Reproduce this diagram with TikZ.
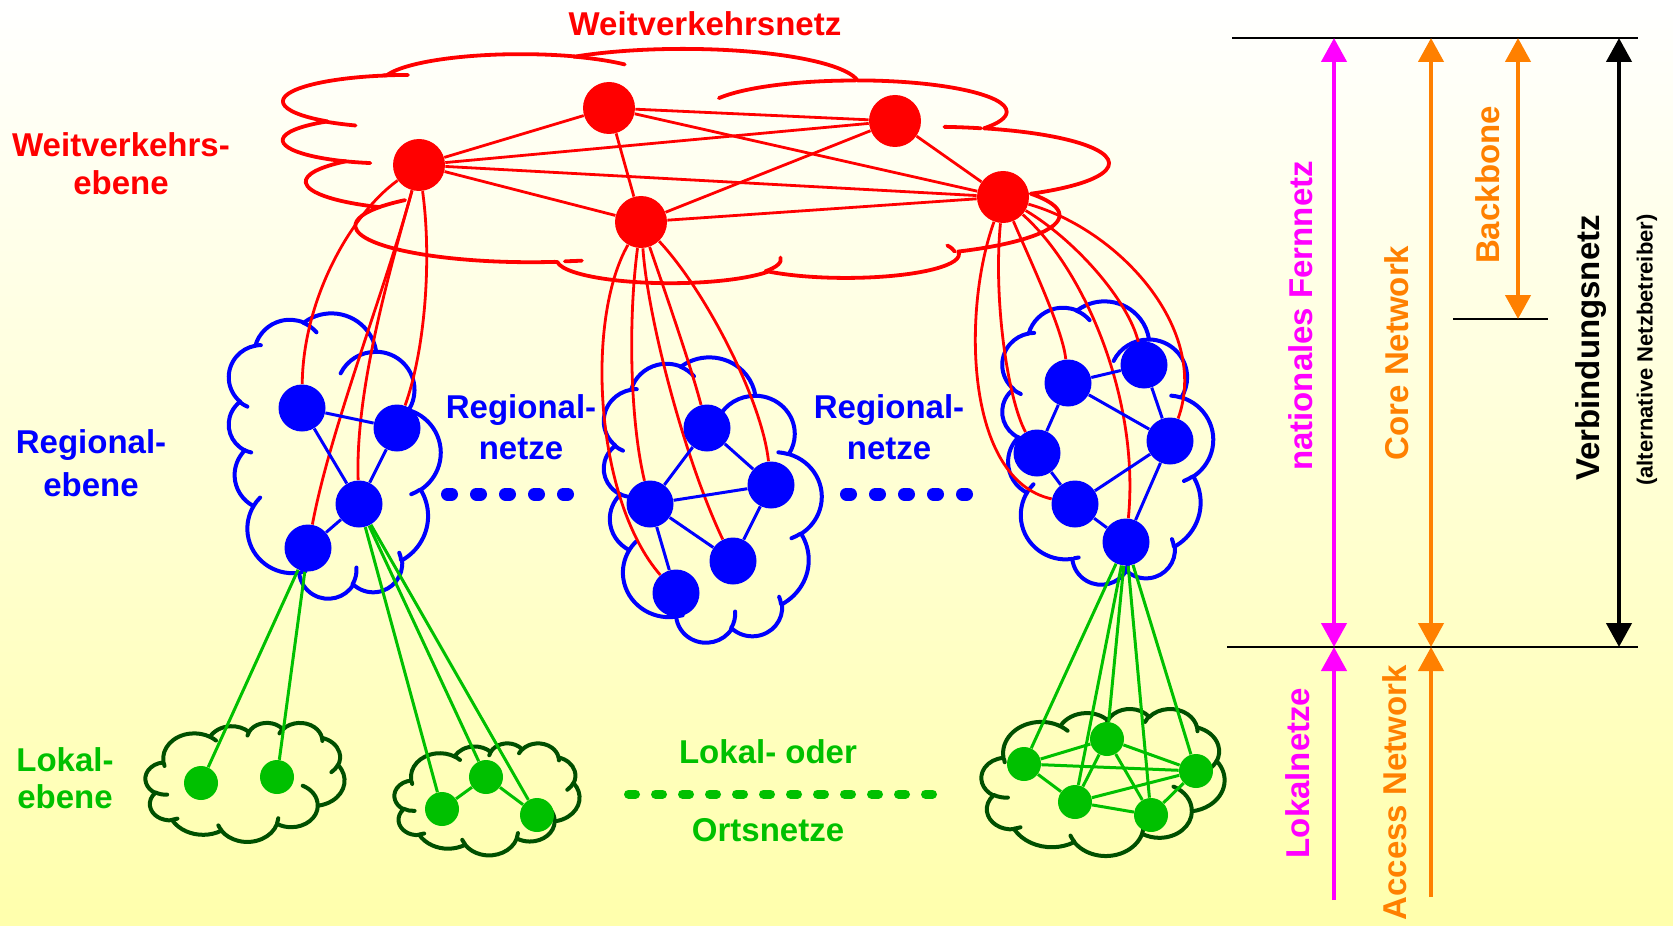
\documentclass[tikz,border=0pt]{standalone}
\usepackage{fontspec}
\setmainfont{Liberation Sans}
\usetikzlibrary{arrows.meta}
\definecolor{rd}{RGB}{255,0,0}
\definecolor{bl}{RGB}{0,0,255}
\definecolor{gn}{RGB}{0,192,0}
\definecolor{dg}{RGB}{0,80,0}
\definecolor{mg}{RGB}{255,0,255}
\definecolor{og}{RGB}{255,128,0}
\definecolor{bgy}{RGB}{255,255,172}
\pgfdeclarelayer{bg}
\pgfsetlayers{bg,main}
% elliptic arc in the manner of DrawingML arcTo (visual angles)
\newcommand\carc[4]{%
  \pgfextra{%
    \pgfmathparse{atan2((#1)*sin(#3),(#2)*cos(#3))}\global\let\cTa\pgfmathresult
    \pgfmathparse{atan2((#1)*sin((#3)+(#4)),(#2)*cos((#3)+(#4)))}\global\let\cTb\pgfmathresult
    \pgfmathparse{\cTb-(\cTa)}\global\let\cTd\pgfmathresult
    \pgfmathparse{\cTd+360*((#4)>0)*(\cTd<0)-360*((#4)<0)*(\cTd>0)}\global\let\cTd\pgfmathresult
  }%
  arc[x radius=#1pt, y radius=#2pt, start angle=\cTa, delta angle=\cTd]}
\newcommand\cloudmain{(3.9pt,14.37pt)
  \carc{6.753}{9.190}{-190.4875}{123.7805}
  \carc{5.333}{7.267}{-144.1024}{89.9452}
  \carc{4.365}{5.945}{-145.8079}{99.7230}
  \carc{4.857}{6.595}{-130.9861}{117.2417}
  \carc{5.333}{7.273}{-78.7089}{109.0269}
  \carc{6.775}{9.220}{-46.2673}{130.2690}
  \carc{5.785}{7.867}{0.6250}{114.0333}
  \carc{6.752}{9.215}{22.4516}{115.1726}
  \carc{7.720}{10.543}{66.2426}{75.7110}
  \carc{4.360}{5.918}{-274.9421}{146.7356}
  \carc{4.345}{5.945}{-246.8285}{152.5189} -- cycle}
\newcommand\cloudinner{(4.693pt,26.177pt) \carc{4.345}{5.945}{86.742}{26.4295}
  (6.928pt,34.899pt) \carc{4.360}{5.918}{73.6105}{11.4475}
  (16.478pt,39.090pt) \carc{6.752}{9.215}{137.6242}{14.0811}
  (28.827pt,34.751pt) \carc{6.752}{9.215}{6.4533}{15.9984}
  (34.129pt,22.954pt) \carc{5.785}{7.867}{-70.2924}{70.9174}
  (41.798pt,15.354pt) \carc{5.333}{7.273}{30.3180}{27.7515}
  (38.324pt,5.426pt) \carc{4.857}{6.595}{-13.7443}{14.8589}
  (29.078pt,3.952pt) \carc{4.857}{6.595}{-149.1815}{18.1954}
  (22.141pt,4.720pt) \carc{4.365}{5.945}{-163.4943}{17.6864}
  (14.000pt,5.192pt) \carc{6.753}{9.190}{-66.7070}{12.3194}
  (4.127pt,15.789pt) \carc{6.753}{9.190}{162.0452}{7.4489}}
% #1 style, #2 cx, #3 cy, #4 extent along cloud x, #5 extent along cloud y, #6 rotation
\newcommand\drawcloud[6]{%
  \begin{scope}[shift={(#2,#3)},rotate=#6,xscale=#4/86.4,yscale=-#5/86.4,shift={(-21.6pt,-21.6pt)}]
    \draw[#1] \cloudmain;
    \draw[#1] \cloudinner;
  \end{scope}}
\begin{document}
\begin{tikzpicture}[x=0.5pt,y=-0.5pt,>={Triangle[width=12.5pt,length=12pt]},
  rn/.style={circle,fill=rd,inner sep=0pt,minimum size=26pt},
  bn/.style={circle,fill=bl,inner sep=0pt,minimum size=23.5pt},
  gnd/.style={circle,fill=gn,inner sep=0pt,minimum size=17pt},
  rl/.style={draw=rd,line width=1.4pt},
  bll/.style={draw=bl,line width=1.5pt},
  gl/.style={draw=gn,line width=1.5pt},
  rc/.style={draw=rd,line width=1.9pt,line join=round,line cap=round},
  bc/.style={draw=bl,line width=2pt,line join=round,line cap=round},
  gc/.style={draw=dg,line width=2pt,line join=round,line cap=round},
  lbl/.style={inner sep=0pt,font=\fontsize{16.5}{18}\selectfont\bfseries},
  bdash/.style={draw=bl,line width=6.5pt,line cap=round,dash pattern=on 2pt off 12.5pt},
  gdash/.style={draw=gn,line width=4.5pt,line cap=round,dash pattern=on 3.5pt off 10pt},
  hl/.style={draw=black,line width=1pt},
  ar/.style={line width=2.2pt}]
\useasboundingbox (0,0) rectangle (1673,925);
% ---------- nodes ----------
\node[rn] (A) at (419,165) {};
\node[rn] (B) at (609,108) {};
\node[rn] (C) at (895,121) {};
\node[rn] (D) at (641,222) {};
\node[rn] (E) at (1003,197) {};
\node[bn] (L1) at (302,408) {};
\node[bn] (L2) at (397,428) {};
\node[bn] (L3) at (359,504) {};
\node[bn] (L4) at (308,548) {};
\node[bn] (M1) at (707,428) {};
\node[bn] (M2) at (771,485) {};
\node[bn] (M3) at (650,504) {};
\node[bn] (M4) at (733,561) {};
\node[bn] (M5) at (676,593) {};
\node[bn] (R1) at (1068,383) {};
\node[bn] (R2) at (1144,365) {};
\node[bn] (R3) at (1170,441) {};
\node[bn] (R4) at (1037,453) {};
\node[bn] (R5) at (1075,504) {};
\node[bn] (R6) at (1126,542) {};
\node[gnd] (Ga) at (201,783) {};
\node[gnd] (Gb) at (277,777) {};
\node[gnd] (Hc) at (442,809) {};
\node[gnd] (Hd) at (486,777) {};
\node[gnd] (He) at (537,815) {};
\node[gnd] (Ka) at (1024,764) {};
\node[gnd] (Kb) at (1107,739) {};
\node[gnd] (Kc) at (1196,771) {};
\node[gnd] (Kd) at (1075,802) {};
\node[gnd] (Ke) at (1151,815) {};
\begin{pgfonlayer}{bg}
\shade[top color=white,bottom color=bgy] (0,0) rectangle (1673,925);
% clouds
\drawcloud{rc}{693}{166}{234}{826}{90}
\drawcloud{bc}{334}{456}{285}{212}{90}
\drawcloud{bc}{712}{500}{285}{218}{90}
\drawcloud{bc}{1107}{443}{283}{211}{90}
\drawcloud{gc}{245}{782}{199}{119}{0}
\drawcloud{gc}{487}{799}{185}{112}{0}
\drawcloud{gc}{1103}{782}{243}{147}{0}
% red mesh
\foreach \u/\v in {A/B,A/C,A/D,A/E,B/C,B/D,B/E,C/D,C/E,D/E} \draw[rl] (\u) -- (\v);
% red connectors
\draw[rl] (A) .. controls (350,215) and (303,300) .. (L1);
\draw[rl] (A) .. controls (385,290) and (330,430) .. (L4);
\draw[rl] (A) .. controls (390,270) and (355,390) .. (L3);
\draw[rl] (A) .. controls (432,260) and (425,350) .. (L2);
\draw[rl] (D) .. controls (585,320) and (595,500) .. (M5);
\draw[rl] (D) .. controls (628,320) and (630,420) .. (M3);
\draw[rl] (D) .. controls (648,320) and (685,460) .. (M4);
\draw[rl] (D) .. controls (668,300) and (692,370) .. (M1);
\draw[rl] (D) .. controls (705,290) and (762,400) .. (M2);
\draw[rl] (E) .. controls (962,310) and (965,480) .. (R5);
\draw[rl] (E) .. controls (993,300) and (1008,400) .. (R4);
\draw[rl] (E) .. controls (1030,260) and (1063,330) .. (R1);
\draw[rl] (E) .. controls (1085,270) and (1140,400) .. (R6);
\draw[rl] (E) .. controls (1075,240) and (1128,300) .. (R2);
\draw[rl] (E) .. controls (1120,230) and (1210,330) .. (R3);
% blue meshes
\foreach \u/\v in {L1/L2,L1/L3,L2/L3,L3/L4,
  M1/M2,M1/M3,M3/M2,M3/M4,M2/M4,M3/M5,
  R1/R2,R2/R3,R1/R3,R1/R4,R4/R5,R5/R3,R5/R6,R3/R6} \draw[bll] (\u) -- (\v);
% green connectors and meshes
\foreach \u/\v in {L4/Ga,L4/Gb,L3/Hc,L3/Hd,L3/He,
  R6/Ka,R6/Kb,R6/Kc,R6/Kd,R6/Ke,
  Hc/Hd,Hd/He,
  Ka/Kb,Ka/Kc,Ka/Kd,Kb/Kd,Kb/Ke,Kb/Kc,Kd/Kc,Kd/Ke,Ke/Kc} \draw[gl] (\u) -- (\v);
\end{pgfonlayer}
% ---------- dashes ----------
\coordinate (bd1) at (447.5,494); \coordinate (bd2) at (567.5,494);
\coordinate (bd3) at (846.5,494); \coordinate (bd4) at (966.5,494);
\draw[bdash] (bd1) -- (bd2);
\draw[bdash] (bd3) -- (bd4);
\coordinate (gd1) at (628.5,794); \coordinate (gd2) at (932.5,794);
\draw[gdash] (gd1) -- (gd2);
% ---------- labels ----------
\node[lbl,rd] (wvn) at (705,24) {Weitverkehrsnetz};
\node[lbl,rd] (wve1) at (121,145) {Weitverkehrs-};
\node[lbl,rd] (wve2) at (121,183) {ebene};
\node[lbl,bl] (re1) at (91,445) {Regional-};
\node[lbl,bl] (re2) at (91,485) {ebene};
\node[lbl,bl] (rn1) at (521,410) {Regional-};
\node[lbl,bl] (rn2) at (521,449) {netze};
\node[lbl,bl] (rn3) at (889,410) {Regional-};
\node[lbl,bl] (rn4) at (889,449) {netze};
\node[lbl,gn] (le1) at (65,760) {Lokal-};
\node[lbl,gn] (le2) at (65,797) {ebene};
\node[lbl,gn] (lo1) at (768,752) {Lokal- oder};
\node[lbl,gn] (lo2) at (768,830) {Ortsnetze};
% ---------- right scale ----------
\coordinate (tl1) at (1232,38); \coordinate (tl2) at (1638,38);
\coordinate (bl1) at (1227,647); \coordinate (bl2) at (1638,647);
\coordinate (bb1) at (1453,319); \coordinate (bb2) at (1548,319);
\draw[hl] (tl1) -- (tl2);
\draw[hl] (bl1) -- (bl2);
\draw[hl] (bb1) -- (bb2);
\coordinate (mT) at (1334,38); \coordinate (mM) at (1334,647); \coordinate (mB) at (1334,900);
\coordinate (oT) at (1431,38); \coordinate (oM) at (1431,647); \coordinate (oB) at (1431,897);
\coordinate (kT) at (1518,38); \coordinate (kB) at (1518,319);
\coordinate (vT) at (1619,38); \coordinate (vB) at (1619,647);
\draw[ar,mg,<->] (mT) -- (mM);
\draw[ar,mg,->] (mB) -- (mM);
\draw[ar,og,<->] (oT) -- (oM);
\draw[ar,og,->] (oB) -- (oM);
\draw[ar,og,<->] (kT) -- (kB);
\draw[ar,black,<->] (vT) -- (vB);
\node[lbl,mg,rotate=90] (natF) at (1301,316) {nationales Fernnetz};
\node[lbl,mg,rotate=90] (lokN) at (1298,773) {Lokalnetze};
\node[lbl,og,rotate=90] (coreN) at (1397,353) {Core Network};
\node[lbl,og,rotate=90] (accN) at (1395,793) {Access Network};
\node[lbl,og,rotate=90] (bbone) at (1488,185) {Backbone};
\node[lbl,black,rotate=90] (vbn) at (1591,348) {Verbindungsnetz};
\node[inner sep=0pt,font=\fontsize{11}{12}\selectfont\bfseries,rotate=90] (alt) at (1647,350) {(alternative Netzbetreiber)};
\end{tikzpicture}
\end{document}
